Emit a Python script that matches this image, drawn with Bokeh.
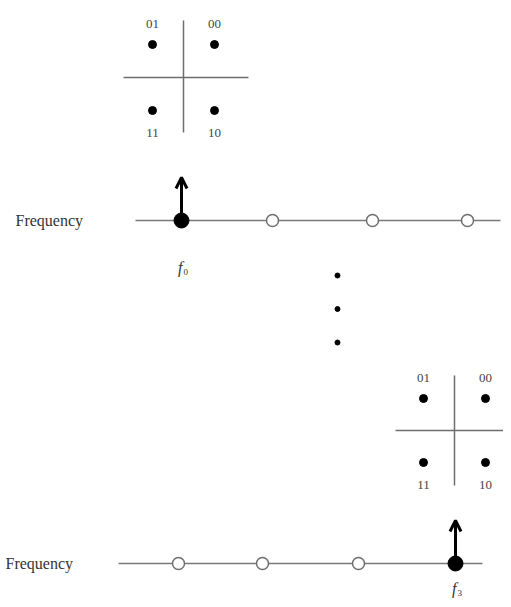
from bokeh.plotting import figure
from bokeh.models import Range1d, Arrow, OpenHead
from bokeh.core.properties import value
from bokeh.embed import file_html
from bokeh.resources import INLINE

# ---- data ----
symbol_labels = ["01", "00", "11", "10"]
symbol_i = [-1, 1, -1, 1]
symbol_q = [1, 1, -1, -1]
carrier_index = [0, 1, 2, 3]
active_carrier = [0, 3]          # carrier used in row 1 and row 2
carrier_names = ["0", "3"]
row_label = "Frequency"

# ---- layout (pixel coordinates, y grows downward) ----
W, H = 503, 599
p = figure(width=W, height=H, output_backend="svg", toolbar_location=None,
           x_range=Range1d(0, W), y_range=Range1d(H, 0),
           min_border=0, outline_line_color=None)
p.axis.visible = False
p.grid.visible = False
p.background_fill_color = "white"

serif = value("Liberation Serif")
rows = [
    dict(y=220, slots=[181, 272, 372, 467], lx0=135, lx1=500, tx=15,
         cx=183, cy=77, dx=31, dy=33, h0=-60, h1=65, v0=-57, v1=55, fy=267),
    dict(y=563, slots=[178, 262, 358, 455], lx0=118, lx1=482, tx=5,
         cx=454, cy=430, dx=31, dy=32, h0=-59, h1=70, v0=-55, v1=55, fy=588),
]

for r, act, name in zip(rows, active_carrier, carrier_names):
    # frequency axis line
    p.segment(x0=[r["lx0"]], y0=[r["y"]], x1=[r["lx1"]], y1=[r["y"]],
              line_color="#7a7a7a", line_width=1.5)
    xs = [r["slots"][k] for k in carrier_index]
    off_x = [x for k, x in zip(carrier_index, xs) if k != act]
    on_x = [x for k, x in zip(carrier_index, xs) if k == act]
    p.scatter(x=off_x, y=[r["y"]] * len(off_x), size=12, marker="circle",
              fill_color="white", line_color="#6e6e6e", line_width=1.5)
    p.scatter(x=on_x, y=[r["y"]], size=15, marker="circle",
              fill_color="black", line_color="black")
    p.add_layout(Arrow(end=OpenHead(size=11, line_width=3, line_color="black"),
                       x_start=on_x[0], y_start=r["y"], x_end=on_x[0], y_end=r["y"] - 43,
                       line_width=3, line_color="black"))
    # row label
    p.text(x=[r["tx"]], y=[r["y"]], text=[row_label], text_font=serif,
           text_font_size="16px", text_color="#333333",
           text_align="left", text_baseline="middle")
    # carrier name f_k
    p.text(x=[on_x[0] + 1], y=[r["fy"]], text=["f"], text_font=serif,
           text_font_style="italic", text_font_size="16px", text_color="#333333",
           text_align="right", text_baseline="middle")
    p.text(x=[on_x[0] + 2], y=[r["fy"] + 4], text=[name], text_font=serif,
           text_font_size="9px", text_color="#333333",
           text_align="left", text_baseline="middle")
    # constellation
    cx, cy = r["cx"], r["cy"]
    p.segment(x0=[cx + r["h0"]], y0=[cy], x1=[cx + r["h1"]], y1=[cy],
              line_color="#6e6e6e", line_width=1.5)
    p.segment(x0=[cx], y0=[cy + r["v0"]], x1=[cx], y1=[cy + r["v1"]],
              line_color="#6e6e6e", line_width=1.5)
    sx = [cx + i * r["dx"] for i in symbol_i]
    sy = [cy - q * r["dy"] for q in symbol_q]
    p.scatter(x=sx, y=sy, size=8, marker="circle", fill_color="black", line_color="black")
    ly = [y - 21 if q > 0 else y + 22 for y, q in zip(sy, symbol_q)]
    p.text(x=sx, y=ly, text=symbol_labels, text_font=serif, text_font_size="13px",
           text_color="#444444", text_align="center", text_baseline="middle")

# vertical ellipsis between rows
ell_n = [0, 1, 2]
p.scatter(x=[337] * 3, y=[275 + 33.5 * n for n in ell_n], size=5, marker="circle",
          fill_color="black", line_color="black")

open("out.html", "w").write(file_html(p, INLINE))
